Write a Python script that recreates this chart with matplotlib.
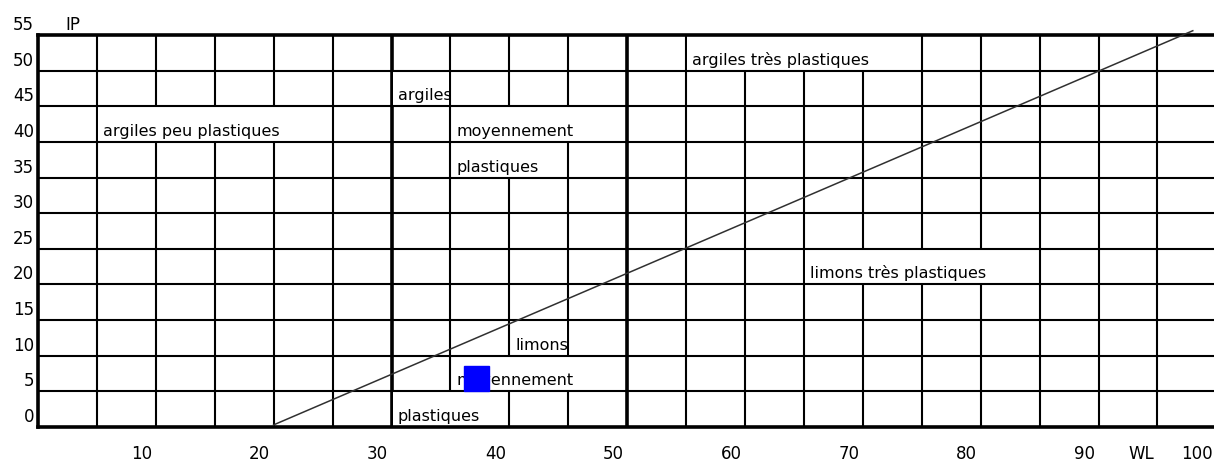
import matplotlib
matplotlib.use("Agg")
import matplotlib.pyplot as plt
from matplotlib.patches import Rectangle

# Plasticity chart: liquid limit (WL) against plasticity index (IP)
wl_grid = [5, 10, 15, 20, 25, 30, 35, 40, 45, 50, 55, 60, 65, 70, 75, 80, 85, 90, 95]
wl_bold = [30, 50]
ip_grid = [5, 10, 15, 20, 25, 30, 35, 40, 45, 50]

wl_tick_values = [10, 20, 30, 40, 50, 60, 70, 80, 90, 95, 100]
wl_tick_labels = ["10", "20", "30", "40", "50", "60", "70", "80", "90", "WL", "100"]
ip_tick_values = [0, 5, 10, 15, 20, 25, 30, 35, 40, 45, 50, 55]
ip_tick_labels = ["0", "5", "10", "15", "20", "25", "30", "35", "40", "45", "50", "55"]

# A-line
a_line_wl = [20, 98]
a_line_ip = [0.3, 55.6]

# measured soil sample
sample_wl = [37.2]
sample_ip = [6.9]

# zone names: (text, left grid WL, lower grid IP of the row)
zone_texts = ["argiles peu plastiques", "argiles", "moyennement", "plastiques",
              "argiles très plastiques", "limons très plastiques",
              "limons", "moyennement", "plastiques"]
zone_wl = [5, 30, 35, 35, 55, 65, 40, 35, 30]
zone_ip = [40, 45, 40, 35, 50, 20, 10, 5, 0]

W, H = 1214, 461
fig = plt.figure(figsize=(W / 100, H / 100), dpi=100)
fig.patch.set_facecolor("white")
ax = fig.add_axes([38 / W, 34 / H, (W - 38) / W, 392 / H])
ax.set_xlim(0, 99.8)
ax.set_ylim(0, 55)
ax.axis("off")

thin = 1.5
bold = 2.6

for x in wl_grid:
    ax.axvline(x, color="black", lw=bold if x in wl_bold else thin, zorder=1)
for y in ip_grid:
    ax.axhline(y, color="black", lw=thin, zorder=3)

# outer frame: left, bottom, top
ax.axvline(0, color="black", lw=bold, zorder=3, clip_on=False)
ax.axhline(0, color="black", lw=bold, zorder=3, clip_on=False)
ax.axhline(55, color="black", lw=bold, zorder=3, clip_on=False)

ax.plot(a_line_wl, a_line_ip, color="#303030", lw=1.1, zorder=3, clip_on=False)

tick_fs = 12
for v, lab in zip(ip_tick_values, ip_tick_labels):
    ax.annotate(lab, xy=(0, v), xytext=(-4, 5), textcoords="offset pixels",
                ha="right", va="baseline", fontsize=tick_fs, annotation_clip=False)
ax.annotate("IP", xy=(0, 55), xytext=(27, 5), textcoords="offset pixels",
            ha="left", va="baseline", fontsize=tick_fs, annotation_clip=False)
for v, lab in zip(wl_tick_values, wl_tick_labels):
    ax.annotate(lab, xy=(v, 0), xytext=(-3.5, -32), textcoords="offset pixels",
                ha="right", va="baseline", fontsize=tick_fs, annotation_clip=False)

label_fs = 11.5
texts = []
for t, x, y in zip(zone_texts, zone_wl, zone_ip):
    texts.append(ax.annotate(t, xy=(x, y), xytext=(6, 6), textcoords="offset pixels",
                             ha="left", va="baseline", fontsize=label_fs, zorder=4))

# white label backgrounds fill the row and hide the vertical grid behind the text
fig.canvas.draw()
renderer = fig.canvas.get_renderer()
inv = ax.transData.inverted()
px_x = 99.8 / (W - 38)
for txt, x, y in zip(texts, zone_wl, zone_ip):
    bb = txt.get_window_extent(renderer)
    right = inv.transform((bb.x1 - 1.5, bb.y0))[0]
    # keep a grid line that sits right at the end of the text visible
    for g in wl_grid:
        if -1.5 * px_x < g - right < 4 * px_x:
            right = g - 1.2 * px_x
    left = x + 1.4 * px_x
    ax.add_patch(Rectangle((left, y), right - left, 5, facecolor="white",
                           edgecolor="none", zorder=2))

ax.plot(sample_wl, sample_ip, marker="s", markersize=18, color="#0000ff",
        markeredgecolor="#0000ff", linestyle="none", zorder=5)

fig.savefig("out.png", dpi=100, facecolor="white")
